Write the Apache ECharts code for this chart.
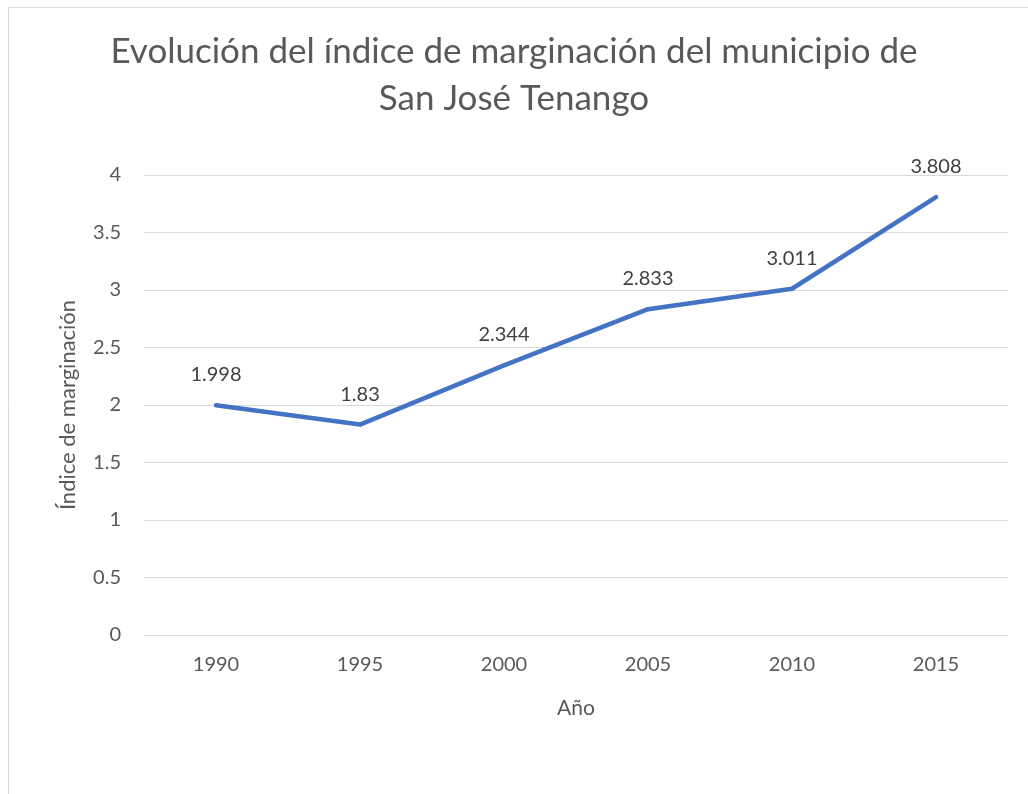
<!DOCTYPE html>
<html>
<head>
<meta charset="utf-8">
<script src="https://cdn.jsdelivr.net/npm/echarts@6/dist/echarts.min.js"></script>
<style>
  html, body { margin: 0; padding: 0; background: #fff; }
  #chart { width: 1028px; height: 794px; }
</style>
</head>
<body>
<div id="chart"></div>
<script>
// datos
const years = ['1990', '1995', '2000', '2005', '2010', '2015']
const indice = [1.998, 1.83, 2.344, 2.833, 3.011, 3.808]

const font = 'Lato, "Liberation Sans", sans-serif'
const chart = echarts.init(document.getElementById('chart'))

const option = {
  animation: false,
  backgroundColor: '#fff',
  title: {
    text: 'Evolución del índice de marginación del municipio de\nSan José Tenango',
    left: 'center',
    top: 23,
    textStyle: {
      color: '#595959',
      fontFamily: font,
      fontSize: 35,
      fontWeight: 'normal',
      lineHeight: 47
    }
  },
  graphic: [{
    type: 'rect',
    shape: { x: 8.5, y: 7.5, width: 1100, height: 900 },
    style: { fill: 'none', stroke: '#d9d9d9', lineWidth: 1 },
    silent: true
  }],
  grid: { left: 144, right: 20, top: 175, bottom: 159 },
  xAxis: {
    type: 'category',
    data: years,
    name: 'Año',
    nameLocation: 'middle',
    nameGap: 63,
    nameTextStyle: { color: '#595959', fontFamily: font, fontSize: 21 },
    axisLine: { show: false },
    axisTick: { show: false },
    axisLabel: { color: '#595959', fontFamily: font, fontSize: 20, margin: 20 }
  },
  yAxis: {
    type: 'value',
    min: 0,
    max: 4,
    interval: 0.5,
    name: 'Índice de marginación',
    nameLocation: 'middle',
    nameGap: 65,
    nameTextStyle: { color: '#595959', fontFamily: font, fontSize: 22 },
    axisLine: { show: false },
    axisTick: { show: false },
    axisLabel: { color: '#595959', fontFamily: font, fontSize: 20, margin: 23 },
    splitLine: { lineStyle: { color: '#d9d9d9', width: 1 } }
  },
  series: [{
    type: 'line',
    data: indice,
    symbol: 'circle',
    symbolSize: 1,
    showSymbol: true,
    itemStyle: { color: 'rgba(0,0,0,0)' },
    lineStyle: { color: '#4472C4', width: 4.5, cap: 'round', join: 'round' },
    label: {
      show: true,
      position: 'top',
      distance: 20,
      color: '#404040',
      fontFamily: font,
      fontSize: 20
    },
    labelLayout: { hideOverlap: false }
  }]
}

chart.setOption(option)
</script>
</body>
</html>
